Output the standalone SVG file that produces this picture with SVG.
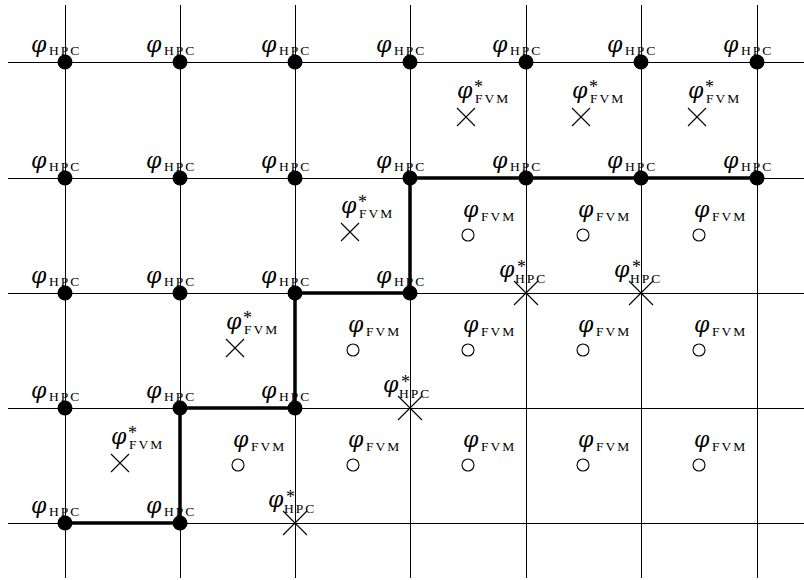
<svg xmlns="http://www.w3.org/2000/svg" width="804" height="580" viewBox="0 0 804 580">
<style>
.grid line{stroke:#000;stroke-width:1;shape-rendering:crispEdges}
.path{fill:none;stroke:#000;stroke-width:3.5}
.dot{fill:#000}
.circ{fill:none;stroke:#000;stroke-width:1.1}
.x{stroke:#000;stroke-width:1.1}
.phi{font-family:"DejaVu Serif","Liberation Serif",serif;font-style:italic;font-size:22px;fill:#000}
.sub{font-family:"Liberation Serif","DejaVu Serif",serif;font-size:13.5px;letter-spacing:2px;fill:#000}
.star{font-family:"Liberation Serif","DejaVu Serif",serif;font-size:18px;fill:#000}
</style>
<rect width="804" height="580" fill="#fff"/>
<g id="grid" class="grid">
<line x1="65" y1="5" x2="65" y2="578"/>
<line x1="180" y1="5" x2="180" y2="578"/>
<line x1="295" y1="5" x2="295" y2="578"/>
<line x1="410" y1="5" x2="410" y2="578"/>
<line x1="526" y1="5" x2="526" y2="578"/>
<line x1="641" y1="5" x2="641" y2="578"/>
<line x1="757" y1="5" x2="757" y2="578"/>
<line x1="8" y1="62" x2="804" y2="62"/>
<line x1="8" y1="178" x2="804" y2="178"/>
<line x1="8" y1="293" x2="804" y2="293"/>
<line x1="8" y1="408" x2="804" y2="408"/>
<line x1="8" y1="523" x2="804" y2="523"/>
</g>
<g id="connectors">
<path class="path" d="M65 523H180V408H295V293H410V178H757"/>
</g>
<defs>
<g id="hpc"><circle class="dot" r="7.5"/><text class="phi" x="-34" y="-10">φ</text><text class="sub" x="-16" y="-7">HPC</text></g>
<g id="hpcs"><path class="x" d="M-12-12L12 12M-12 12L12-12"/><text class="phi" x="-27" y="-16">φ</text><text class="star" x="-9" y="-20">*</text><text class="sub" x="-11" y="-10">HPC</text></g>
<g id="fvm"><circle class="circ" r="6"/><text class="phi" x="-5" y="-18">φ</text><text class="sub" x="13" y="-14">FVM</text></g>
<g id="fvms"><path class="x" d="M-9-9L9 9M-9 9L9-9"/><text class="phi" x="-9" y="-19">φ</text><text class="star" x="8" y="-24">*</text><text class="sub" x="9" y="-14">FVM</text></g>
</defs>
<g id="n-hpc-0-0"><use href="#hpc" x="65" y="62"/></g>
<g id="n-hpc-1-0"><use href="#hpc" x="180" y="62"/></g>
<g id="n-hpc-2-0"><use href="#hpc" x="295" y="62"/></g>
<g id="n-hpc-3-0"><use href="#hpc" x="410" y="62"/></g>
<g id="n-hpc-4-0"><use href="#hpc" x="526" y="62"/></g>
<g id="n-hpc-5-0"><use href="#hpc" x="641" y="62"/></g>
<g id="n-hpc-6-0"><use href="#hpc" x="757" y="62"/></g>
<g id="n-hpc-0-1"><use href="#hpc" x="65" y="178"/></g>
<g id="n-hpc-1-1"><use href="#hpc" x="180" y="178"/></g>
<g id="n-hpc-2-1"><use href="#hpc" x="295" y="178"/></g>
<g id="n-hpc-3-1"><use href="#hpc" x="410" y="178"/></g>
<g id="n-hpc-4-1"><use href="#hpc" x="526" y="178"/></g>
<g id="n-hpc-5-1"><use href="#hpc" x="641" y="178"/></g>
<g id="n-hpc-6-1"><use href="#hpc" x="757" y="178"/></g>
<g id="n-hpc-0-2"><use href="#hpc" x="65" y="293"/></g>
<g id="n-hpc-1-2"><use href="#hpc" x="180" y="293"/></g>
<g id="n-hpc-2-2"><use href="#hpc" x="295" y="293"/></g>
<g id="n-hpc-3-2"><use href="#hpc" x="410" y="293"/></g>
<g id="n-hpc-0-3"><use href="#hpc" x="65" y="408"/></g>
<g id="n-hpc-1-3"><use href="#hpc" x="180" y="408"/></g>
<g id="n-hpc-2-3"><use href="#hpc" x="295" y="408"/></g>
<g id="n-hpc-0-4"><use href="#hpc" x="65" y="523"/></g>
<g id="n-hpc-1-4"><use href="#hpc" x="180" y="523"/></g>
<g id="n-hpcs-1"><use href="#hpcs" x="526" y="293"/></g>
<g id="n-hpcs-2"><use href="#hpcs" x="641" y="293"/></g>
<g id="n-hpcs-3"><use href="#hpcs" x="410" y="408"/></g>
<g id="n-hpcs-4"><use href="#hpcs" x="295" y="523"/></g>
<g id="n-fvms-1"><use href="#fvms" x="466" y="117"/></g>
<g id="n-fvms-2"><use href="#fvms" x="581" y="117"/></g>
<g id="n-fvms-3"><use href="#fvms" x="697" y="117"/></g>
<g id="n-fvms-4"><use href="#fvms" x="350" y="232"/></g>
<g id="n-fvms-5"><use href="#fvms" x="235" y="348"/></g>
<g id="n-fvms-6"><use href="#fvms" x="120" y="463"/></g>
<g id="n-fvm-1"><use href="#fvm" x="468" y="235"/></g>
<g id="n-fvm-2"><use href="#fvm" x="583" y="235"/></g>
<g id="n-fvm-3"><use href="#fvm" x="699" y="235"/></g>
<g id="n-fvm-4"><use href="#fvm" x="353" y="350"/></g>
<g id="n-fvm-5"><use href="#fvm" x="468" y="350"/></g>
<g id="n-fvm-6"><use href="#fvm" x="583" y="350"/></g>
<g id="n-fvm-7"><use href="#fvm" x="699" y="350"/></g>
<g id="n-fvm-8"><use href="#fvm" x="238" y="465"/></g>
<g id="n-fvm-9"><use href="#fvm" x="353" y="465"/></g>
<g id="n-fvm-10"><use href="#fvm" x="468" y="465"/></g>
<g id="n-fvm-11"><use href="#fvm" x="583" y="465"/></g>
<g id="n-fvm-12"><use href="#fvm" x="699" y="465"/></g>
</svg>
